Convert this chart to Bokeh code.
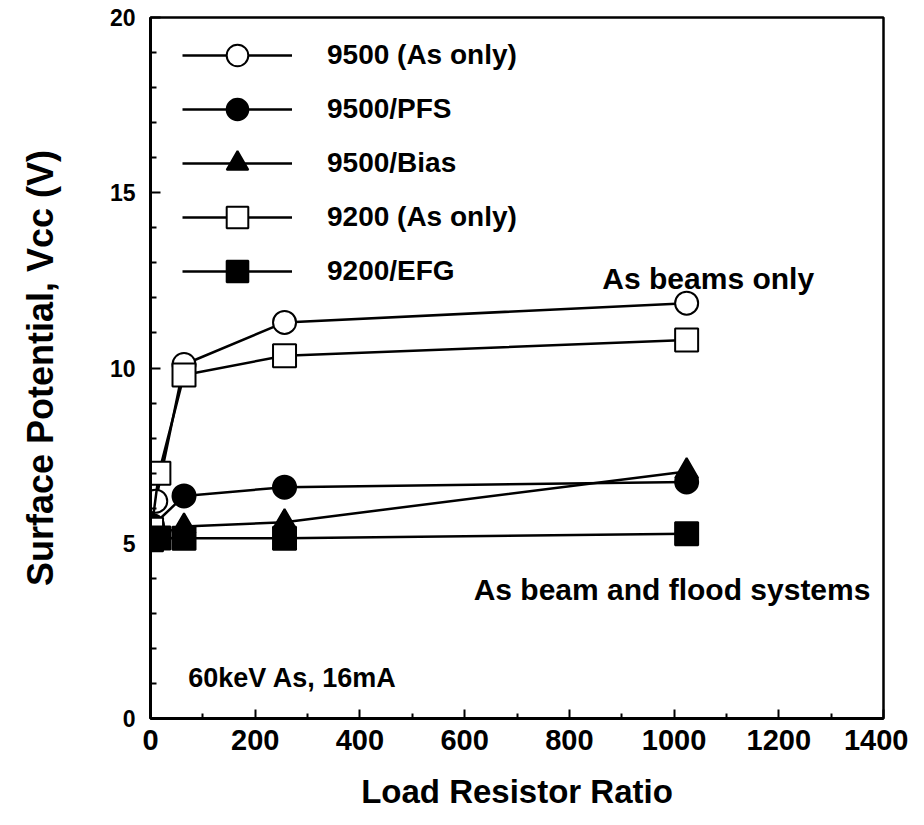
from bokeh.plotting import figure
from bokeh.models import FixedTicker, Label, Legend, LegendItem
from bokeh.embed import file_html
from bokeh.resources import INLINE

# ---- data ----
x_9500_as = [2, 10, 64, 256, 1024]
y_9500_as = [5.5, 6.2, 10.1, 11.3, 11.85]

x_9500_pfs = [4, 64, 256, 1024]
y_9500_pfs = [5.5, 6.35, 6.6, 6.75]

x_9500_bias = [4, 64, 256, 1024]
y_9500_bias = [5.2, 5.48, 5.6, 7.05]

x_9200_as = [2, 16, 64, 256, 1024]
y_9200_as = [5.4, 7.0, 9.8, 10.35, 10.8]

x_9200_efg = [2, 16, 64, 256, 1024]
y_9200_efg = [5.1, 5.15, 5.14, 5.14, 5.27]

x_major = [0, 200, 400, 600, 800, 1000, 1200, 1400]
x_minor = [100, 300, 500, 700, 900, 1100, 1300]
y_major = [0, 5, 10, 15, 20]
y_minor = [1, 2, 3, 4, 6, 7, 8, 9, 11, 12, 13, 14, 16, 17, 18, 19]

FONT = "Liberation Sans"

p = figure(width=908, height=817, x_range=(0, 1400), y_range=(0, 20),
           output_backend="svg", toolbar_location=None,
           min_border_left=150, min_border_right=25,
           min_border_top=17, min_border_bottom=99)

p.grid.visible = False
p.outline_line_color = "black"
p.outline_line_width = 2.5
p.background_fill_color = "white"

p.xaxis.ticker = FixedTicker(ticks=x_major, minor_ticks=x_minor)
p.yaxis.ticker = FixedTicker(ticks=y_major, minor_ticks=y_minor)

for ax in (p.xaxis[0], p.yaxis[0]):
    ax.axis_line_width = 3
    ax.axis_line_color = "black"
    ax.major_tick_in = 9
    ax.major_tick_out = 0
    ax.minor_tick_in = 5
    ax.minor_tick_out = 0
    ax.major_tick_line_width = 2
    ax.minor_tick_line_width = 2
    ax.major_tick_line_color = "black"
    ax.minor_tick_line_color = "black"
    ax.major_label_text_font = FONT
    ax.major_label_text_font_style = "bold"
    ax.major_label_text_color = "black"
    ax.axis_label_text_font = FONT
    ax.axis_label_text_font_style = "bold"
    ax.axis_label_text_color = "black"

p.yaxis.major_tick_in = 10
p.yaxis.minor_tick_in = 6

p.xaxis.major_label_text_font_size = "29px"
p.yaxis.major_label_text_font_size = "23px"
p.xaxis.major_label_standoff = 11
p.yaxis.major_label_standoff = 15

p.xaxis.axis_label = "Load Resistor Ratio"
p.yaxis.axis_label = "Surface Potential, Vcc (V)"
p.xaxis.axis_label_text_font_size = "33px"
p.yaxis.axis_label_text_font_size = "36px"
p.xaxis.axis_label_standoff = 20
p.yaxis.axis_label_standoff = 46

LW = 2.5
MS = 23

series = [
    ("9500 (As only)", x_9500_as, y_9500_as, "circle", "white"),
    ("9500/PFS", x_9500_pfs, y_9500_pfs, "circle", "black"),
    ("9500/Bias", x_9500_bias, y_9500_bias, "triangle", "black"),
    ("9200 (As only)", x_9200_as, y_9200_as, "square", "white"),
    ("9200/EFG", x_9200_efg, y_9200_efg, "square", "black"),
]

items = []
for name, xs, ys, marker, fill in series:
    ln = p.line(xs, ys, line_color="black", line_width=LW)
    sc = p.scatter(xs, ys, marker=marker, size=MS, fill_color=fill,
                   line_color="black", line_width=2)
    items.append(LegendItem(label=name, renderers=[ln, sc]))

legend = Legend(items=items, location=(32, 420),
                glyph_width=110, glyph_height=54, label_height=54,
                label_standoff=35, spacing=0, padding=0, margin=0,
                border_line_alpha=0, background_fill_alpha=0,
                label_text_font=FONT, label_text_font_style="bold",
                label_text_font_size="28px", label_text_color="black")
p.add_layout(legend, "center")

lab_kw = dict(text_font=FONT, text_font_style="bold", text_color="black",
              text_font_size="30px", text_baseline="alphabetic")
p.add_layout(Label(x=863, y=12.55, text="As beams only", **lab_kw))
p.add_layout(Label(x=1375, y=3.68, text="As beam and flood systems",
                   text_align="right", **lab_kw))
p.add_layout(Label(x=72, y=1.15, text="60keV As, 16mA",
                   **{**lab_kw, "text_font_size": "27px"}))

open("out.html", "w").write(file_html(p, INLINE))
